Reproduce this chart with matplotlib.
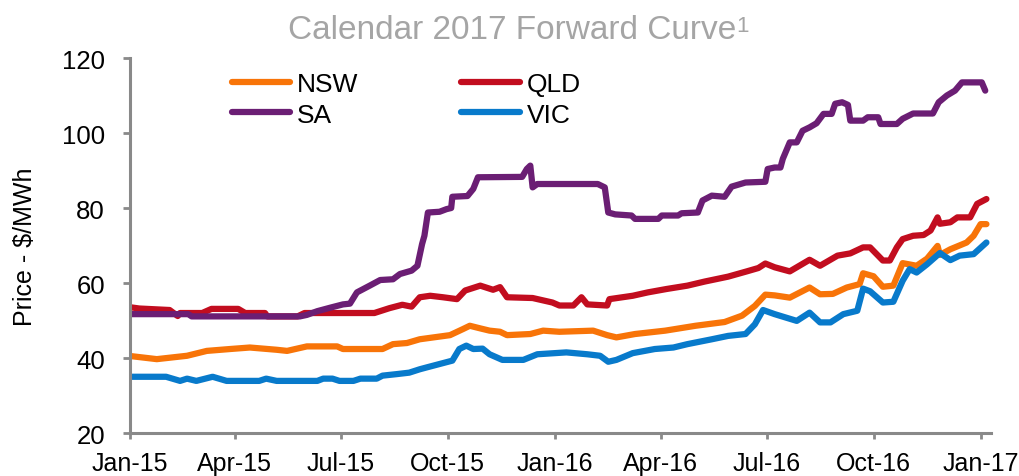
import matplotlib
matplotlib.use("Agg")
import matplotlib.pyplot as plt
import matplotlib.dates as mdates
import pandas as pd

plt.rcParams['font.family'] = ['Liberation Sans', 'DejaVu Sans']

# Calendar 2017 base futures, $/MWh (date, price)
nsw_dates = ['2015-01-02', '2015-01-24', '2015-02-19', '2015-03-08', '2015-03-28', '2015-04-14',
             '2015-05-07', '2015-05-16', '2015-06-02', '2015-06-28', '2015-07-03', '2015-08-06',
             '2015-08-15', '2015-08-27', '2015-09-07', '2015-10-03', '2015-10-14', '2015-10-20',
             '2015-10-29', '2015-11-06', '2015-11-15', '2015-11-21', '2015-12-11', '2015-12-22',
             '2016-01-05', '2016-02-03', '2016-02-15', '2016-02-23', '2016-03-10', '2016-04-05',
             '2016-05-01', '2016-05-26', '2016-06-10', '2016-06-21', '2016-06-30', '2016-07-08',
             '2016-07-21', '2016-08-07', '2016-08-16', '2016-08-27', '2016-09-08', '2016-09-19',
             '2016-09-22', '2016-10-01', '2016-10-09', '2016-10-18', '2016-10-26', '2016-11-07',
             '2016-11-16', '2016-11-25', '2016-11-27', '2016-12-06', '2016-12-20', '2016-12-26',
             '2017-01-01', '2017-01-06']
nsw = [40.5, 39.7, 40.6, 41.9, 42.4, 42.8,
       42.2, 41.9, 43.1, 43.1, 42.4, 42.4,
       43.7, 44.0, 45.0, 46.1, 47.7, 48.6,
       47.9, 47.3, 47.0, 46.1, 46.4, 47.3,
       47.0, 47.3, 46.1, 45.5, 46.4, 47.3,
       48.6, 49.6, 51.3, 53.9, 56.9, 56.7,
       56.1, 58.8, 57.0, 57.1, 58.8, 59.7,
       62.6, 61.8, 59.0, 59.3, 65.3, 64.6,
       66.5, 69.9, 67.5, 69.0, 70.8, 72.6,
       75.7, 75.7]

qld_dates = ['2015-01-02', '2015-01-09', '2015-02-04', '2015-02-11', '2015-02-13', '2015-03-04',
             '2015-03-12', '2015-04-04', '2015-04-10', '2015-04-27', '2015-04-29', '2015-05-25',
             '2015-05-31', '2015-07-30', '2015-08-12', '2015-08-23', '2015-08-31', '2015-09-07',
             '2015-09-16', '2015-09-27', '2015-10-09', '2015-10-16', '2015-10-23', '2015-10-29',
             '2015-11-04', '2015-11-09', '2015-11-15', '2015-11-21', '2015-12-13', '2015-12-30',
             '2016-01-05', '2016-01-17', '2016-01-24', '2016-01-29', '2016-02-15', '2016-02-17',
             '2016-03-08', '2016-03-21', '2016-04-06', '2016-04-24', '2016-05-09', '2016-05-29',
             '2016-06-14', '2016-06-24', '2016-06-30', '2016-07-08', '2016-07-21', '2016-08-07',
             '2016-08-16', '2016-08-31', '2016-09-11', '2016-09-22', '2016-09-28', '2016-10-09',
             '2016-10-15', '2016-10-21', '2016-10-26', '2016-11-04', '2016-11-13', '2016-11-19',
             '2016-11-25', '2016-11-27', '2016-12-06', '2016-12-12', '2016-12-23', '2016-12-29',
             '2017-01-06']
qld = [53.5, 53.2, 52.8, 51.2, 52.0, 52.0,
       53.1, 53.1, 52.0, 52.0, 51.1, 51.1,
       52.0, 52.0, 53.3, 54.2, 53.7, 56.2,
       56.6, 56.2, 55.7, 58.0, 58.7, 59.3,
       58.7, 58.2, 58.9, 56.2, 56.0, 54.8,
       54.0, 54.0, 56.2, 54.3, 54.0, 55.7,
       56.6, 57.5, 58.4, 59.3, 60.4, 61.7,
       63.1, 64.0, 65.2, 64.2, 63.1, 66.2,
       64.6, 67.3, 67.9, 69.5, 69.5, 66.0,
       66.0, 69.5, 71.7, 72.6, 72.8, 74.0,
       77.5, 75.8, 76.2, 77.5, 77.5, 81.1,
       82.4]

sa_dates = ['2015-01-02', '2015-02-20', '2015-02-23', '2015-05-27', '2015-06-02', '2015-06-11',
            '2015-06-23', '2015-07-03', '2015-07-09', '2015-07-15', '2015-07-26', '2015-08-04',
            '2015-08-15', '2015-08-21', '2015-08-31', '2015-09-05', '2015-09-09', '2015-09-11',
            '2015-09-14', '2015-09-24', '2015-09-30', '2015-10-04', '2015-10-05', '2015-10-18',
            '2015-10-23', '2015-10-27', '2015-12-04', '2015-12-08', '2015-12-11', '2015-12-13',
            '2015-12-17', '2016-02-07', '2016-02-13', '2016-02-16', '2016-02-22', '2016-03-07',
            '2016-03-10', '2016-03-30', '2016-04-02', '2016-04-16', '2016-04-19', '2016-05-03',
            '2016-05-07', '2016-05-15', '2016-05-26', '2016-06-01', '2016-06-13', '2016-06-30',
            '2016-07-02', '2016-07-08', '2016-07-13', '2016-07-15', '2016-07-21', '2016-07-27',
            '2016-08-01', '2016-08-07', '2016-08-13', '2016-08-19', '2016-08-26', '2016-08-29',
            '2016-09-04', '2016-09-09', '2016-09-11', '2016-09-22', '2016-09-26', '2016-10-05',
            '2016-10-07', '2016-10-21', '2016-10-26', '2016-11-04', '2016-11-21', '2016-11-26',
            '2016-12-03', '2016-12-10', '2016-12-16', '2017-01-02', '2017-01-05']
sa = [51.7, 51.7, 51.1, 51.1, 51.5, 52.5,
      53.5, 54.3, 54.5, 57.5, 59.3, 60.8,
      61.0, 62.4, 63.3, 64.6, 70.4, 72.6,
      78.8, 79.0, 79.7, 80.0, 83.0, 83.2,
      85.1, 88.2, 88.3, 90.4, 91.3, 85.5,
      86.4, 86.4, 85.5, 78.8, 78.3, 78.0,
      77.1, 77.1, 78.0, 78.0, 78.6, 78.8,
      82.0, 83.3, 83.0, 85.7, 86.8, 87.0,
      90.4, 90.8, 90.8, 93.1, 97.5, 97.5,
      100.6, 101.5, 102.6, 105.1, 105.1, 107.8,
      108.2, 107.5, 103.3, 103.3, 104.2, 104.2,
      102.4, 102.4, 103.8, 105.2, 105.2, 108.2,
      110.0, 111.3, 113.5, 113.5, 111.3]

vic_dates = ['2015-01-02', '2015-02-01', '2015-02-13', '2015-02-19', '2015-02-27', '2015-03-13',
             '2015-03-25', '2015-04-22', '2015-04-28', '2015-05-07', '2015-06-11', '2015-06-16',
             '2015-06-24', '2015-06-30', '2015-07-12', '2015-07-18', '2015-08-01', '2015-08-06',
             '2015-08-18', '2015-08-29', '2015-09-07', '2015-09-13', '2015-09-24', '2015-10-05',
             '2015-10-11', '2015-10-17', '2015-10-23', '2015-10-31', '2015-11-06', '2015-11-17',
             '2015-12-05', '2015-12-17', '2016-01-11', '2016-01-29', '2016-02-09', '2016-02-16',
             '2016-02-23', '2016-03-08', '2016-03-27', '2016-04-12', '2016-04-24', '2016-05-15',
             '2016-05-29', '2016-06-13', '2016-06-21', '2016-06-28', '2016-07-08', '2016-07-27',
             '2016-08-07', '2016-08-16', '2016-08-25', '2016-09-05', '2016-09-17', '2016-09-22',
             '2016-09-28', '2016-10-09', '2016-10-18', '2016-10-26', '2016-11-01', '2016-11-07',
             '2016-11-16', '2016-11-27', '2016-12-06', '2016-12-14', '2016-12-26', '2017-01-06']
vic = [35.0, 35.0, 33.9, 34.5, 33.9, 35.0,
       33.9, 33.9, 34.5, 33.9, 33.9, 34.5,
       34.5, 33.9, 33.9, 34.5, 34.5, 35.3,
       35.7, 36.1, 37.0, 37.5, 38.4, 39.3,
       42.4, 43.3, 42.4, 42.5, 41.0, 39.5,
       39.5, 41.0, 41.5, 41.0, 40.6, 39.0,
       39.5, 41.3, 42.4, 42.8, 43.7, 45.0,
       45.9, 46.4, 49.0, 52.8, 51.7, 49.9,
       52.1, 49.5, 49.5, 51.7, 52.6, 58.5,
       57.8, 54.8, 55.0, 60.6, 63.7, 62.8,
       65.0, 68.0, 66.1, 67.3, 67.7, 70.8]

regions = ['NSW', 'QLD', 'SA', 'VIC']
colours = ['#F87408', '#C20D1F', '#6B1E74', '#087ACB']
series = [(nsw_dates, nsw), (qld_dates, qld), (sa_dates, sa), (vic_dates, vic)]

fig = plt.figure(figsize=(10.19, 4.77), dpi=100)
ax = fig.add_axes([0.1276, 0.0901, 0.845, 0.7862])

lines = {}
for name, col, (d, v) in zip(regions, colours, series):
    ln, = ax.plot(pd.to_datetime(d), v, color=col, lw=4.5,
                  solid_joinstyle='round', solid_capstyle='round', label=name)
    lines[name] = ln

ax.set_ylim(20, 120)
ax.set_yticks([20, 40, 60, 80, 100, 120])
ax.set_xlim(pd.Timestamp('2015-01-01'), pd.Timestamp('2017-01-10'))
ax.set_xticks(pd.date_range('2015-01-01', '2017-01-01', freq='QS'))
ax.xaxis.set_major_formatter(mdates.DateFormatter('%b-%y'))

grey = '#898989'
for s in ['top', 'right']:
    ax.spines[s].set_visible(False)
for s in ['left', 'bottom']:
    ax.spines[s].set_color(grey)
    ax.spines[s].set_linewidth(2.2)
ax.tick_params(axis='y', direction='out', length=5, width=2, color=grey,
               labelsize=18.5, pad=13)
ax.tick_params(axis='x', direction='out', length=4, width=2, color=grey,
               labelsize=18, pad=9)

ax.set_ylabel(r'Price - \$/MWh', fontsize=18)
ax.yaxis.set_label_coords(-0.108, 0.5)

# legend: NSW/QLD on top row, SA/VIC below
order = ['NSW', 'SA', 'QLD', 'VIC']
ax.legend([lines[k] for k in order], order, ncol=2, frameon=False,
          loc='upper left', bbox_to_anchor=(232 / 1019, 1 - 73 / 477),
          bbox_transform=fig.transFigure, fontsize=19,
          handlelength=2.2, handletextpad=0.27, columnspacing=3.9,
          labelspacing=0.25, borderpad=0, borderaxespad=0)

title = fig.text(0.503, 0.937, 'Calendar 2017 Forward Curve', fontsize=24,
                 color='#A5A5A5', ha='center', va='center')
ax.annotate('1', xy=(1, 0.95), xycoords=title, fontsize=16, color='#A5A5A5',
            ha='left', va='top')

fig.savefig('out.png', dpi=100)
